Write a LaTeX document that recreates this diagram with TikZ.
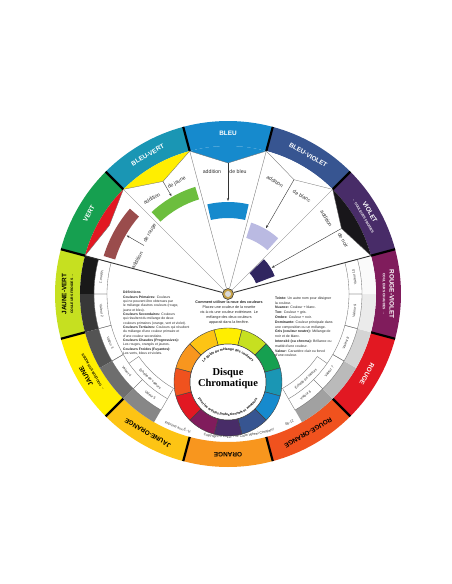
\documentclass[tikz,border=0pt]{standalone}
\usepackage{fontspec}
\setmainfont{Liberation Sans}
\newfontfamily\discfont{Liberation Serif}
\usetikzlibrary{arrows.meta,decorations.text}

\definecolor{cBleu}{RGB}{22,138,205}
\definecolor{cBleuViolet}{RGB}{55,85,145}
\definecolor{cViolet}{RGB}{72,44,104}
\definecolor{cRougeViolet}{RGB}{128,28,92}
\definecolor{cRouge}{RGB}{226,24,34}
\definecolor{cRougeOrange}{RGB}{240,82,30}
\definecolor{cOrange}{RGB}{248,150,30}
\definecolor{cJauneOrange}{RGB}{253,196,20}
\definecolor{cJaune}{RGB}{255,238,0}
\definecolor{cJauneVert}{RGB}{198,224,32}
\definecolor{cVert}{RGB}{22,160,80}
\definecolor{cBleuVert}{RGB}{26,150,180}
\definecolor{cNoir}{RGB}{24,22,26}
\definecolor{cMarron}{RGB}{154,76,76}
\definecolor{cVertClair}{RGB}{108,190,62}
\definecolor{cLavande}{RGB}{186,186,226}
\definecolor{cMarine}{RGB}{48,38,96}
\definecolor{cLaiton}{RGB}{196,160,70}

\tikzstyle{sep} = [line width=2.2pt,black]
\tikzstyle{ray} = [draw=black!55,line width=0.35pt]
\tikzstyle{rim} = [draw=black!80,line width=0.9pt]
\tikzstyle{arrow} = [-{Stealth[length=3pt,width=2.2pt]},black!80,line width=0.4pt]
\tikzstyle{hue} = [font=\fontsize{6.4}{6.8}\selectfont\bfseries,align=center,inner sep=0pt]
\tikzstyle{hint} = [font=\fontsize{5.2}{6}\selectfont,inner sep=0pt,text=black!80]
\tikzstyle{val} = [font=\fontsize{3.5}{4}\selectfont,inner sep=0pt,text=black!80]
\tikzstyle{note} = [font=\fontsize{3.4}{4.35}\selectfont,align=left,inner sep=0pt,text=black!85]
\tikzstyle{eye} = [circle,draw=black!75,fill=cLaiton,minimum size=11pt,inner sep=0pt,line width=0.6pt]

\begin{document}
\begin{tikzpicture}[x=1pt,y=1pt]
    \fill[white] (-228,-290) rectangle (224,294);
    \useasboundingbox (-228,-290) rectangle (224,294);

    % couronne des couleurs
    \foreach \a/\c in {90/cBleu,60/cBleuViolet,30/cViolet,0/cRougeViolet,-30/cRouge,-60/cRougeOrange,
                       -90/cOrange,-120/cJauneOrange,-150/cJaune,180/cJauneVert,150/cVert,120/cBleuVert}
        \fill[\c] (\a-15:148) arc[start angle=\a-15,end angle=\a+15,radius=148]
            -- (\a+15:173) arc[start angle=\a+15,end angle=\a-15,radius=173] -- cycle;
    \foreach \a in {15,45,...,345}
        \draw[sep] (\a:148) -- (\a:173);

    \node[hue,white,rotate=0] (lBleu) at (90:160.5) {BLEU};
    \node[hue,white,rotate=-30] (lBleuViolet) at (60:160.5) {BLEU-VIOLET};
    \node[hue,white,rotate=-60] (lViolet) at (30:160.5) {VIOLET\\{\fontsize{3.4}{4}\selectfont ← COULEURS FROIDES}};
    \node[hue,white,rotate=-90] (lRougeViolet) at (0:160.5) {ROUGE-VIOLET\\{\fontsize{3.4}{4}\selectfont COULEURS CHAUDES →}};
    \node[hue,white,rotate=-120] (lRouge) at (-30:160.5) {ROUGE};
    \node[hue,rotate=-150] (lRougeOrange) at (-60:160.5) {ROUGE-ORANGE};
    \node[hue,rotate=180] (lOrange) at (-90:160.5) {ORANGE};
    \node[hue,rotate=150] (lJauneOrange) at (-120:160.5) {JAUNE-ORANGE};
    \node[hue,rotate=120] (lJaune) at (-150:160.5) {JAUNE\\{\fontsize{3.4}{4}\selectfont ← COULEURS CHAUDES}};
    \node[hue,rotate=90] (lJauneVert) at (180:160.5) {JAUNE-VERT\\{\fontsize{3.4}{4}\selectfont COULEURS FROIDES →}};
    \node[hue,white,rotate=60] (lVert) at (150:160.5) {VERT};
    \node[hue,white,rotate=30] (lBleuVert) at (120:160.5) {BLEU-VERT};

    % fenetres
    \foreach \m/\c/\r in {150/cRouge/137,120/cJaune/130,90/cBleu/131,60/white/132,30/cNoir/131}
        \fill[\c] (\m+15:148) arc[start angle=\m+15,end angle=\m-15,radius=148] -- (\m:\r) -- cycle;

    \coordinate (v165) at (165:148);
    \coordinate (v135) at (135:148);
    \coordinate (v105) at (105:148);
    \coordinate (v75) at (75:148);
    \coordinate (v45) at (45:148);
    \coordinate (v15) at (15:148);
    \coordinate (pRouge) at (150:137);
    \coordinate (pJaune) at (120:130);
    \coordinate (pBleu) at (90:131);
    \coordinate (pBlanc) at (60:132);
    \coordinate (pNoir) at (30:131);
    \draw[ray] (v165) -- (pRouge) -- (v135) -- (pJaune) -- (v105) -- (pBleu) -- (v75) -- (pBlanc) -- (v45) -- (pNoir) -- (v15);

    % echelle de valeurs
    \foreach \s/\g/\n in {165/90/1,180/78/2,195/67/3,210/57/4,225/47/5,300/37/6,315/27/7,330/17/8,345/8/9,360/2/10}
    {
        \fill[black!\g] (\s:134) arc[start angle=\s,end angle=\s+15,radius=134]
            -- (\s+15:148) arc[start angle=\s+15,end angle=\s,radius=148] -- cycle;
        \draw[ray] (\s:121) arc[start angle=\s,end angle=\s+15,radius=121]
            -- (\s+15:134) arc[start angle=\s+15,end angle=\s,radius=134] -- cycle;
        \node[val,rotate=\s+97.5] (val\n) at (\s+7.5:127.5) {Valeur \n};
    }
    \draw[ray] (215:121) -- (215:109) arc[start angle=215,end angle=240,radius=109] -- (240:121);
    \draw[ray] (300:121) -- (300:109) arc[start angle=300,end angle=325,radius=109] -- (325:121);
    \node[val,rotate=-42.5] (echG) at (-132.5:115) {Échelle de valeurs};
    \node[val,rotate=42.5] (echD) at (-47.5:115) {Échelle de valeurs};

    % melanges
    \fill[cMarron] (139:118) arc[start angle=139,end angle=163,radius=118] -- (163:130) arc[start angle=163,end angle=139,radius=130] -- cycle;
    \fill[cVertClair] (107:99) arc[start angle=107,end angle=133,radius=99] -- (133:112) arc[start angle=133,end angle=107,radius=112] -- cycle;
    \fill[cBleu] (77:76) arc[start angle=77,end angle=103,radius=76] -- (103:92) arc[start angle=103,end angle=77,radius=92] -- cycle;
    \fill[cLavande] (48:59) arc[start angle=48,end angle=72,radius=59] -- (72:75) arc[start angle=72,end angle=48,radius=75] -- cycle;
    \fill[cMarine] (21:30) arc[start angle=21,end angle=44,radius=30] -- (44:50) arc[start angle=44,end angle=21,radius=50] -- cycle;

    \node[eye] (eye) at (0,0) {};
    \fill[white!85!black] (eye.center) circle[radius=3];
    \draw[ray] (eye) -- (v135);
    \draw[ray] (eye) -- (v105);
    \draw[ray] (eye) -- (v75);
    \draw[ray] (eye) -- (v45);
    \draw[rim] (eye) -- (v165);
    \draw[rim] (eye) -- (v15);

    \coordinate (sRouge) at (150:97);
    \coordinate (tRouge) at (150:117);
    \coordinate (tJaune) at (120:113);
    \coordinate (tBleu) at (90:93);
    \coordinate (tBlanc) at (60:76);
    \coordinate (tNoir) at (31:51);
    \draw[arrow] (sRouge) -- (tRouge);
    \draw[arrow] (pJaune) -- (tJaune);
    \draw[arrow] (pBleu) -- (tBleu);
    \draw[arrow] (pBlanc) -- (tBlanc);
    \draw[arrow] (pNoir) -- (tNoir);

    \node[hint,rotate=60] (aRouge) at (159.6:97) {addition};
    \node[hint,rotate=60] (dRouge) at (142:99) {de rouge};
    \node[hint,rotate=30] (aJaune) at (128.6:122) {addition};
    \node[hint,rotate=30] (dJaune) at (114.7:122.5) {de jaune};
    \node[hint] (aBleu) at (97.5:123) {addition};
    \node[hint] (dBleu) at (85.3:122.4) {de bleu};
    \node[hint,rotate=-30] (aBlanc) at (67.4:122) {addition};
    \node[hint,rotate=-30] (dBlanc) at (53:122.6) {de blanc};
    \node[hint,rotate=-60] (aNoir) at (37.5:124) {addition};
    \node[hint,rotate=-60] (dNoir) at (25:127) {de noir};

    % textes
    \node[note,anchor=north west] (defs) at (-105,3) {\textbf{Définitions}\\
        \textbf{Couleurs Primaires:} Couleurs\\
        qui ne peuvent être obtenues par\\
        le mélange d'autres couleurs (rouge,\\
        jaune et bleu).\\
        \textbf{Couleurs Secondaires:} Couleurs\\
        qui résultent du mélange de deux\\
        couleurs primaires (orange, vert et violet).\\
        \textbf{Couleurs Tertiaires:} Couleurs qui résultent\\
        du mélange d'une couleur primaire et\\
        d'une couleur secondaire.\\
        \textbf{Couleurs Chaudes (Progressives):}\\
        Les rouges, orangés et jaunes.\\
        \textbf{Couleurs Froides (Fuyantes):}\\
        Les verts, bleus et violets.};
    \node[note,align=center,font=\fontsize{3.7}{5}\selectfont,anchor=north] (mode) at (1,-6.5) {\textbf{Comment utiliser la roue des couleurs}\\
        Placez une couleur de la rosette\\
        vis-à-vis une couleur extérieure. Le\\
        mélange des deux couleurs\\
        apparait dans la fenêtre.};
    \node[note,font=\fontsize{3.5}{4.8}\selectfont,anchor=north west] (termes) at (47,-2.5) {\textbf{Teinte:} Un autre nom pour désigner\\
        la couleur.\\
        \textbf{Nuance:} Couleur + blanc.\\
        \textbf{Ton:} Couleur + gris.\\
        \textbf{Ombre:} Couleur + noir.\\
        \textbf{Dominante:} Couleur principale dans\\
        une composition ou un mélange.\\
        \textbf{Gris (couleur neutre):} Mélange de\\
        noir et de blanc.\\
        \textbf{Intensité (ou chroma):} Brillance ou\\
        matité d'une couleur.\\
        \textbf{Valeur:} Caractère clair ou foncé\\
        d'une couleur.};

    \path[decorate,decoration={text along path,text align=center,
        text={|\fontsize{3.5}{4}\selectfont\color{black!80}|Imprimé aux É.-U.}}]
        (-118:144) arc[start angle=-118,end angle=-103,radius=144];
    \path[decorate,decoration={text along path,text align=center,
        text={|\fontsize{3.5}{4}\selectfont\color{black!80}|Copyright © 2010, The Color Wheel Company}}]
        (-102:144) arc[start angle=-102,end angle=-69,radius=144];
    \path[decorate,decoration={text along path,text align=center,
        text={|\fontsize{3.5}{4}\selectfont\color{black!80}|08-12}}]
        (-68:144) arc[start angle=-68,end angle=-61,radius=144];

    % rosette
    \begin{scope}[shift={(0,-88)}]
        \foreach \a/\c in {90/cJaune,60/cJauneVert,30/cVert,0/cBleuVert,-30/cBleu,-60/cBleuViolet,
                           -90/cViolet,-120/cRougeViolet,-150/cRouge,180/cRougeOrange,150/cOrange,120/cJauneOrange}
            \filldraw[fill=\c,draw=black!75,line width=0.4pt] (\a-15:38) arc[start angle=\a-15,end angle=\a+15,radius=38]
                -- (\a+15:54) arc[start angle=\a+15,end angle=\a-15,radius=54] -- cycle;
        \draw[fill=white,draw=black!80,line width=0.5pt] (0,0) circle[radius=38];
        \node[font=\discfont\fontsize{10.5}{11}\selectfont\bfseries,align=center,inner sep=0pt] (titre) at (0,4) {Disque\\Chromatique};
        \path[decorate,decoration={text along path,text align=center,
            text={|\fontsize{3.4}{4}\selectfont\bfseries|Le guide du mélange des couleurs}}]
            (165:31.5) arc[start angle=165,end angle=15,radius=31.5];
        \path[decorate,decoration={text along path,text align=center,
            text={|\fontsize{3.4}{4}\selectfont\bfseries|pour les artistes professionnels et amateurs}}]
            (-168:34) arc[start angle=-168,end angle=-12,radius=34];
    \end{scope}
\end{tikzpicture}
\end{document}
